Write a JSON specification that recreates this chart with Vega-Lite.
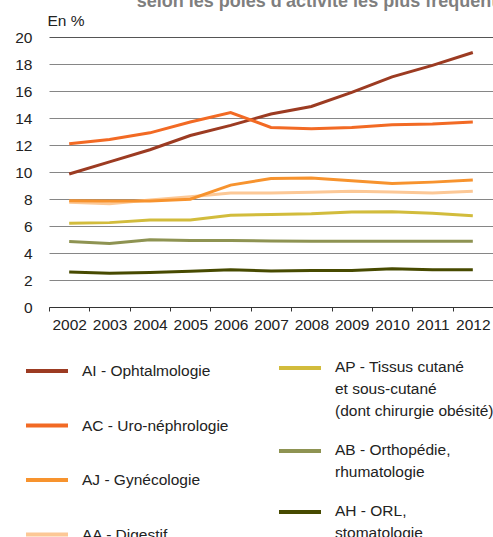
{
  "$schema": "https://vega.github.io/schema/vega-lite/v6.json",
  "autosize": "none",
  "width": 444,
  "height": 270,
  "padding": {"left": 49, "top": 37, "right": 0, "bottom": 230},
  "title": {
    "text": "selon les pôles d'activité les plus fréquents",
    "anchor": "start",
    "dx": 122,
    "dy": 16,
    "fontSize": 18,
    "fontWeight": "bold",
    "color": "#7f7f7f",
    "font": "Liberation Sans",
    "baseline": "alphabetic",
    "offset": 4
  },
  "config": {
    "view": {"stroke": null},
    "font": "Liberation Sans"
  },
  "data": {
    "values": [
      {"year": "2002", "serie": "AI - Ophtalmologie", "grp": "L", "value": 9.85},
      {"year": "2003", "serie": "AI - Ophtalmologie", "grp": "L", "value": 10.75},
      {"year": "2004", "serie": "AI - Ophtalmologie", "grp": "L", "value": 11.65},
      {"year": "2005", "serie": "AI - Ophtalmologie", "grp": "L", "value": 12.7},
      {"year": "2006", "serie": "AI - Ophtalmologie", "grp": "L", "value": 13.45},
      {"year": "2007", "serie": "AI - Ophtalmologie", "grp": "L", "value": 14.3},
      {"year": "2008", "serie": "AI - Ophtalmologie", "grp": "L", "value": 14.85},
      {"year": "2009", "serie": "AI - Ophtalmologie", "grp": "L", "value": 15.9},
      {"year": "2010", "serie": "AI - Ophtalmologie", "grp": "L", "value": 17.05},
      {"year": "2011", "serie": "AI - Ophtalmologie", "grp": "L", "value": 17.9},
      {"year": "2012", "serie": "AI - Ophtalmologie", "grp": "L", "value": 18.85},
      {"year": "2002", "serie": "AC - Uro-néphrologie", "grp": "L", "value": 12.1},
      {"year": "2003", "serie": "AC - Uro-néphrologie", "grp": "L", "value": 12.4},
      {"year": "2004", "serie": "AC - Uro-néphrologie", "grp": "L", "value": 12.9},
      {"year": "2005", "serie": "AC - Uro-néphrologie", "grp": "L", "value": 13.7},
      {"year": "2006", "serie": "AC - Uro-néphrologie", "grp": "L", "value": 14.4},
      {"year": "2007", "serie": "AC - Uro-néphrologie", "grp": "L", "value": 13.3},
      {"year": "2008", "serie": "AC - Uro-néphrologie", "grp": "L", "value": 13.2},
      {"year": "2009", "serie": "AC - Uro-néphrologie", "grp": "L", "value": 13.3},
      {"year": "2010", "serie": "AC - Uro-néphrologie", "grp": "L", "value": 13.5},
      {"year": "2011", "serie": "AC - Uro-néphrologie", "grp": "L", "value": 13.55},
      {"year": "2012", "serie": "AC - Uro-néphrologie", "grp": "L", "value": 13.7},
      {"year": "2002", "serie": "AA - Digestif", "grp": "L", "value": 7.75},
      {"year": "2003", "serie": "AA - Digestif", "grp": "L", "value": 7.65},
      {"year": "2004", "serie": "AA - Digestif", "grp": "L", "value": 7.92},
      {"year": "2005", "serie": "AA - Digestif", "grp": "L", "value": 8.17},
      {"year": "2006", "serie": "AA - Digestif", "grp": "L", "value": 8.45},
      {"year": "2007", "serie": "AA - Digestif", "grp": "L", "value": 8.45},
      {"year": "2008", "serie": "AA - Digestif", "grp": "L", "value": 8.5},
      {"year": "2009", "serie": "AA - Digestif", "grp": "L", "value": 8.58},
      {"year": "2010", "serie": "AA - Digestif", "grp": "L", "value": 8.52},
      {"year": "2011", "serie": "AA - Digestif", "grp": "L", "value": 8.45},
      {"year": "2012", "serie": "AA - Digestif", "grp": "L", "value": 8.58},
      {"year": "2002", "serie": "AJ - Gynécologie", "grp": "L", "value": 7.87},
      {"year": "2003", "serie": "AJ - Gynécologie", "grp": "L", "value": 7.86},
      {"year": "2004", "serie": "AJ - Gynécologie", "grp": "L", "value": 7.85},
      {"year": "2005", "serie": "AJ - Gynécologie", "grp": "L", "value": 7.98},
      {"year": "2006", "serie": "AJ - Gynécologie", "grp": "L", "value": 9.03},
      {"year": "2007", "serie": "AJ - Gynécologie", "grp": "L", "value": 9.52},
      {"year": "2008", "serie": "AJ - Gynécologie", "grp": "L", "value": 9.55},
      {"year": "2009", "serie": "AJ - Gynécologie", "grp": "L", "value": 9.35},
      {"year": "2010", "serie": "AJ - Gynécologie", "grp": "L", "value": 9.15},
      {"year": "2011", "serie": "AJ - Gynécologie", "grp": "L", "value": 9.25},
      {"year": "2012", "serie": "AJ - Gynécologie", "grp": "L", "value": 9.4},
      {"year": "2002", "serie": "AP - Tissus  cutané|et sous-cutané|(dont chirurgie obésité)", "grp": "R", "value": 6.2},
      {"year": "2003", "serie": "AP - Tissus  cutané|et sous-cutané|(dont chirurgie obésité)", "grp": "R", "value": 6.25},
      {"year": "2004", "serie": "AP - Tissus  cutané|et sous-cutané|(dont chirurgie obésité)", "grp": "R", "value": 6.45},
      {"year": "2005", "serie": "AP - Tissus  cutané|et sous-cutané|(dont chirurgie obésité)", "grp": "R", "value": 6.45},
      {"year": "2006", "serie": "AP - Tissus  cutané|et sous-cutané|(dont chirurgie obésité)", "grp": "R", "value": 6.8},
      {"year": "2007", "serie": "AP - Tissus  cutané|et sous-cutané|(dont chirurgie obésité)", "grp": "R", "value": 6.85},
      {"year": "2008", "serie": "AP - Tissus  cutané|et sous-cutané|(dont chirurgie obésité)", "grp": "R", "value": 6.9},
      {"year": "2009", "serie": "AP - Tissus  cutané|et sous-cutané|(dont chirurgie obésité)", "grp": "R", "value": 7.03},
      {"year": "2010", "serie": "AP - Tissus  cutané|et sous-cutané|(dont chirurgie obésité)", "grp": "R", "value": 7.05},
      {"year": "2011", "serie": "AP - Tissus  cutané|et sous-cutané|(dont chirurgie obésité)", "grp": "R", "value": 6.95},
      {"year": "2012", "serie": "AP - Tissus  cutané|et sous-cutané|(dont chirurgie obésité)", "grp": "R", "value": 6.76},
      {"year": "2002", "serie": "AB - Orthopédie,|rhumatologie", "grp": "R", "value": 4.86},
      {"year": "2003", "serie": "AB - Orthopédie,|rhumatologie", "grp": "R", "value": 4.7},
      {"year": "2004", "serie": "AB - Orthopédie,|rhumatologie", "grp": "R", "value": 4.98},
      {"year": "2005", "serie": "AB - Orthopédie,|rhumatologie", "grp": "R", "value": 4.93},
      {"year": "2006", "serie": "AB - Orthopédie,|rhumatologie", "grp": "R", "value": 4.93},
      {"year": "2007", "serie": "AB - Orthopédie,|rhumatologie", "grp": "R", "value": 4.88},
      {"year": "2008", "serie": "AB - Orthopédie,|rhumatologie", "grp": "R", "value": 4.87},
      {"year": "2009", "serie": "AB - Orthopédie,|rhumatologie", "grp": "R", "value": 4.87},
      {"year": "2010", "serie": "AB - Orthopédie,|rhumatologie", "grp": "R", "value": 4.87},
      {"year": "2011", "serie": "AB - Orthopédie,|rhumatologie", "grp": "R", "value": 4.87},
      {"year": "2012", "serie": "AB - Orthopédie,|rhumatologie", "grp": "R", "value": 4.87},
      {"year": "2002", "serie": "AH - ORL,|stomatologie", "grp": "R", "value": 2.6},
      {"year": "2003", "serie": "AH - ORL,|stomatologie", "grp": "R", "value": 2.5},
      {"year": "2004", "serie": "AH - ORL,|stomatologie", "grp": "R", "value": 2.55},
      {"year": "2005", "serie": "AH - ORL,|stomatologie", "grp": "R", "value": 2.65},
      {"year": "2006", "serie": "AH - ORL,|stomatologie", "grp": "R", "value": 2.76},
      {"year": "2007", "serie": "AH - ORL,|stomatologie", "grp": "R", "value": 2.67},
      {"year": "2008", "serie": "AH - ORL,|stomatologie", "grp": "R", "value": 2.7},
      {"year": "2009", "serie": "AH - ORL,|stomatologie", "grp": "R", "value": 2.7},
      {"year": "2010", "serie": "AH - ORL,|stomatologie", "grp": "R", "value": 2.84},
      {"year": "2011", "serie": "AH - ORL,|stomatologie", "grp": "R", "value": 2.76},
      {"year": "2012", "serie": "AH - ORL,|stomatologie", "grp": "R", "value": 2.76}
    ]
  },
  "encoding": {
    "x": {
      "field": "year",
      "type": "ordinal",
      "scale": {"type": "band", "paddingInner": 0, "paddingOuter": 0},
      "axis": {
        "title": null,
        "labelAngle": 0,
        "tickBand": "extent",
        "domainColor": "#333333",
        "tickColor": "#333333",
        "tickSize": 4,
        "labelFontSize": 15.5,
        "labelColor": "#222222",
        "labelPadding": 6,
        "grid": false
      }
    },
    "y": {
      "field": "value",
      "type": "quantitative",
      "scale": {"domain": [0, 20], "nice": false},
      "axis": {
        "values": [0, 2, 4, 6, 8, 10, 12, 14, 16, 18, 20],
        "grid": true,
        "gridColor": {"condition": {"test": "datum.value === 20", "value": "#555555"}, "value": "#868686"},
        "domain": false,
        "ticks": false,
        "labelPadding": 17,
        "labelFontSize": 15.5,
        "labelColor": "#222222",
        "title": "En %",
        "titleAngle": 0,
        "titleAlign": "left",
        "titleBaseline": "alphabetic",
        "titleX": -2,
        "titleY": -12,
        "titleFontSize": 15.5,
        "titleFontWeight": "normal",
        "titleColor": "#222222"
      }
    }
  },
  "layer": [
    {
      "transform": [{"filter": "datum.grp === 'R'"}],
      "mark": {"type": "line", "strokeWidth": 3},
      "encoding": {
        "stroke": {
          "field": "serie",
          "type": "nominal",
          "scale": {
            "domain": ["AP - Tissus  cutané|et sous-cutané|(dont chirurgie obésité)", "AB - Orthopédie,|rhumatologie", "AH - ORL,|stomatologie"],
            "range": ["#D2BC3C", "#8E9352", "#474A00"]
          },
          "legend": {
            "orient": "none",
            "legendX": 228,
            "legendY": 308,
            "direction": "vertical",
            "title": null,
            "padding": 0,
            "symbolType": "stroke",
            "symbolSize": 1764,
            "symbolStrokeWidth": 4,
            "labelFontSize": 15.5,
            "labelColor": "#222222",
            "labelOffset": 12,
            "labelLimit": 400,
            "labelBaseline": "top",
            "rowPadding": 8,
            "labelExpr": "split(datum.label, '|')",
            "encode": {"labels": {"update": {"lineHeight": {"value": 22}, "dy": {"value": -8}}}}
          }
        }
      }
    },
    {
      "transform": [{"filter": "datum.grp === 'L'"}],
      "mark": {"type": "line", "strokeWidth": 3},
      "encoding": {
        "color": {
          "field": "serie",
          "type": "nominal",
          "scale": {
            "domain": ["AI - Ophtalmologie", "AC - Uro-néphrologie", "AJ - Gynécologie", "AA - Digestif"],
            "range": ["#9C3B22", "#F26A24", "#F7932E", "#FCC896"]
          },
          "legend": {
            "orient": "none",
            "legendX": -25,
            "legendY": 311,
            "direction": "vertical",
            "title": null,
            "padding": 0,
            "symbolType": "stroke",
            "symbolSize": 1764,
            "symbolStrokeWidth": 4,
            "labelFontSize": 15.5,
            "labelColor": "#222222",
            "labelOffset": 12,
            "labelLimit": 400,
            "rowPadding": 22.5
          }
        }
      }
    }
  ]
}
